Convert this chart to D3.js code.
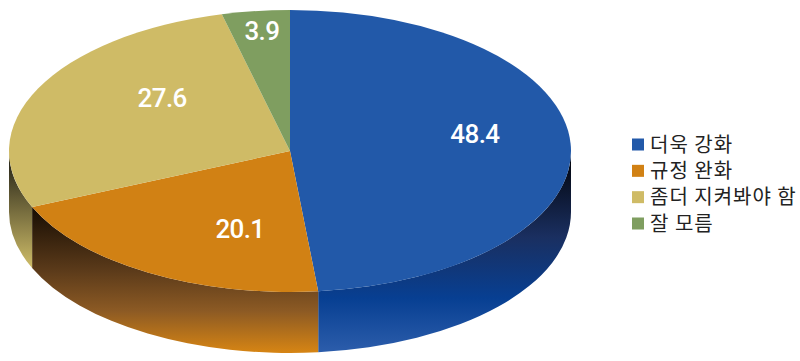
<!DOCTYPE html>
<html>
<head>
<meta charset="utf-8">
<script src="https://cdn.jsdelivr.net/npm/d3@7"></script>
<style>
  html, body { margin: 0; padding: 0; background: #fff; }
  svg { display: block; }
</style>
</head>
<body>
<div id="chart"></div>
<script>
// Datos
const categories = ["더욱 강화", "규정 완화", "좀더 지켜봐야 함", "잘 모름"];
const values = [48.4, 20.1, 27.6, 3.9];
const valueLabels = ["48.4", "20.1", "27.6", "3.9"];

// Colores
const topColors = ["#2259a9", "#d18114", "#cfbb66", "#7f9e60"];
const wallStops = [
    [[0, "#03060f"], [0.4, "#1a2f60"], [0.72, "#073f92"], [1, "#2c5dab"]],
    [[0, "#140b02"], [0.45, "#5c3b1a"], [0.72, "#8c5a24"], [1, "#d58414"]],
    [[0, "#2e2b1c"], [1, "#cfbd68"]],
    [[0, "#222"], [1, "#7f9e60"]]
];
const wallRange = [[160, 352], [205, 352], [165, 268], [0, 1]];

// Posicion de cada etiqueta, en unidades de la elipse
const labelSpots = [[0.658, 0.12], [-0.178, -0.55], [-0.455, 0.375], [-0.1, 0.855]];

const width = 800, height = 361;
const cx = 290, cy = 151, rx = 281, ry = 141, depth = 61;

const svg = d3.select("#chart").append("svg")
    .attr("width", width)
    .attr("height", height);

const defs = svg.append("defs");
wallStops.forEach((stops, i) => {
    const g = defs.append("linearGradient")
        .attr("id", "wall" + i)
        .attr("gradientUnits", "userSpaceOnUse")
        .attr("x1", 0).attr("x2", 0)
        .attr("y1", wallRange[i][0]).attr("y2", wallRange[i][1]);
    stops.forEach(s => g.append("stop").attr("offset", s[0]).attr("stop-color", s[1]));
});

const pie = d3.pie().sort(null).value(d => d);
const slices = pie(values);

// Punto sobre la elipse para un angulo del pie
const px = a => cx + rx * Math.sin(a);
const py = a => cy - ry * Math.cos(a);

// Pared lateral: solo la parte visible (entre 90 y 270 grados)
function wallPath(d) {
    const a0 = Math.max(d.startAngle, Math.PI / 2);
    const a1 = Math.min(d.endAngle, Math.PI * 1.5);
    if (a1 <= a0) return null;
    return `M${px(a0)},${py(a0)}`
        + `A${rx},${ry} 0 0 1 ${px(a1)},${py(a1)}`
        + `L${px(a1)},${py(a1) + depth}`
        + `A${rx},${ry} 0 0 0 ${px(a0)},${py(a0) + depth}Z`;
}

svg.selectAll(".wall")
    .data(slices)
    .enter().append("path")
    .attr("class", "wall")
    .attr("d", wallPath)
    .attr("fill", (d, i) => `url(#wall${i})`);

// Cara superior
const arc = d3.arc().innerRadius(0).outerRadius(rx);
svg.append("g")
    .attr("transform", `translate(${cx},${cy}) scale(1,${ry / rx})`)
    .selectAll("path")
    .data(slices)
    .enter().append("path")
    .attr("d", arc)
    .attr("fill", (d, i) => topColors[i]);

// Etiquetas de valor
svg.selectAll(".value")
    .data(valueLabels)
    .enter().append("text")
    .attr("class", "value")
    .attr("x", (d, i) => cx + rx * labelSpots[i][0])
    .attr("y", (d, i) => cy - ry * labelSpots[i][1])
    .attr("dy", "0.36em")
    .attr("text-anchor", "middle")
    .attr("fill", "#fff")
    .style("font-family", "Roboto, sans-serif")
    .style("font-weight", 500)
    .style("font-size", "26px")
    .style("letter-spacing", "-0.6px")
    .text(d => d);

// Leyenda
const legendY = d3.scalePoint().domain(categories).range([144.5, 223.5]);
const legend = svg.selectAll(".legend")
    .data(categories)
    .enter().append("g")
    .attr("class", "legend")
    .attr("transform", d => `translate(632,${legendY(d)})`);

legend.append("rect")
    .attr("y", -6)
    .attr("width", 12)
    .attr("height", 12)
    .attr("fill", (d, i) => topColors[i]);

legend.append("text")
    .attr("x", 18)
    .attr("dy", "0.36em")
    .attr("fill", "#222")
    .style("font-family", "'Noto Sans CJK KR', sans-serif")
    .style("font-size", "20px")
    .style("letter-spacing", "1px")
    .text(d => d);
</script>
</body>
</html>
